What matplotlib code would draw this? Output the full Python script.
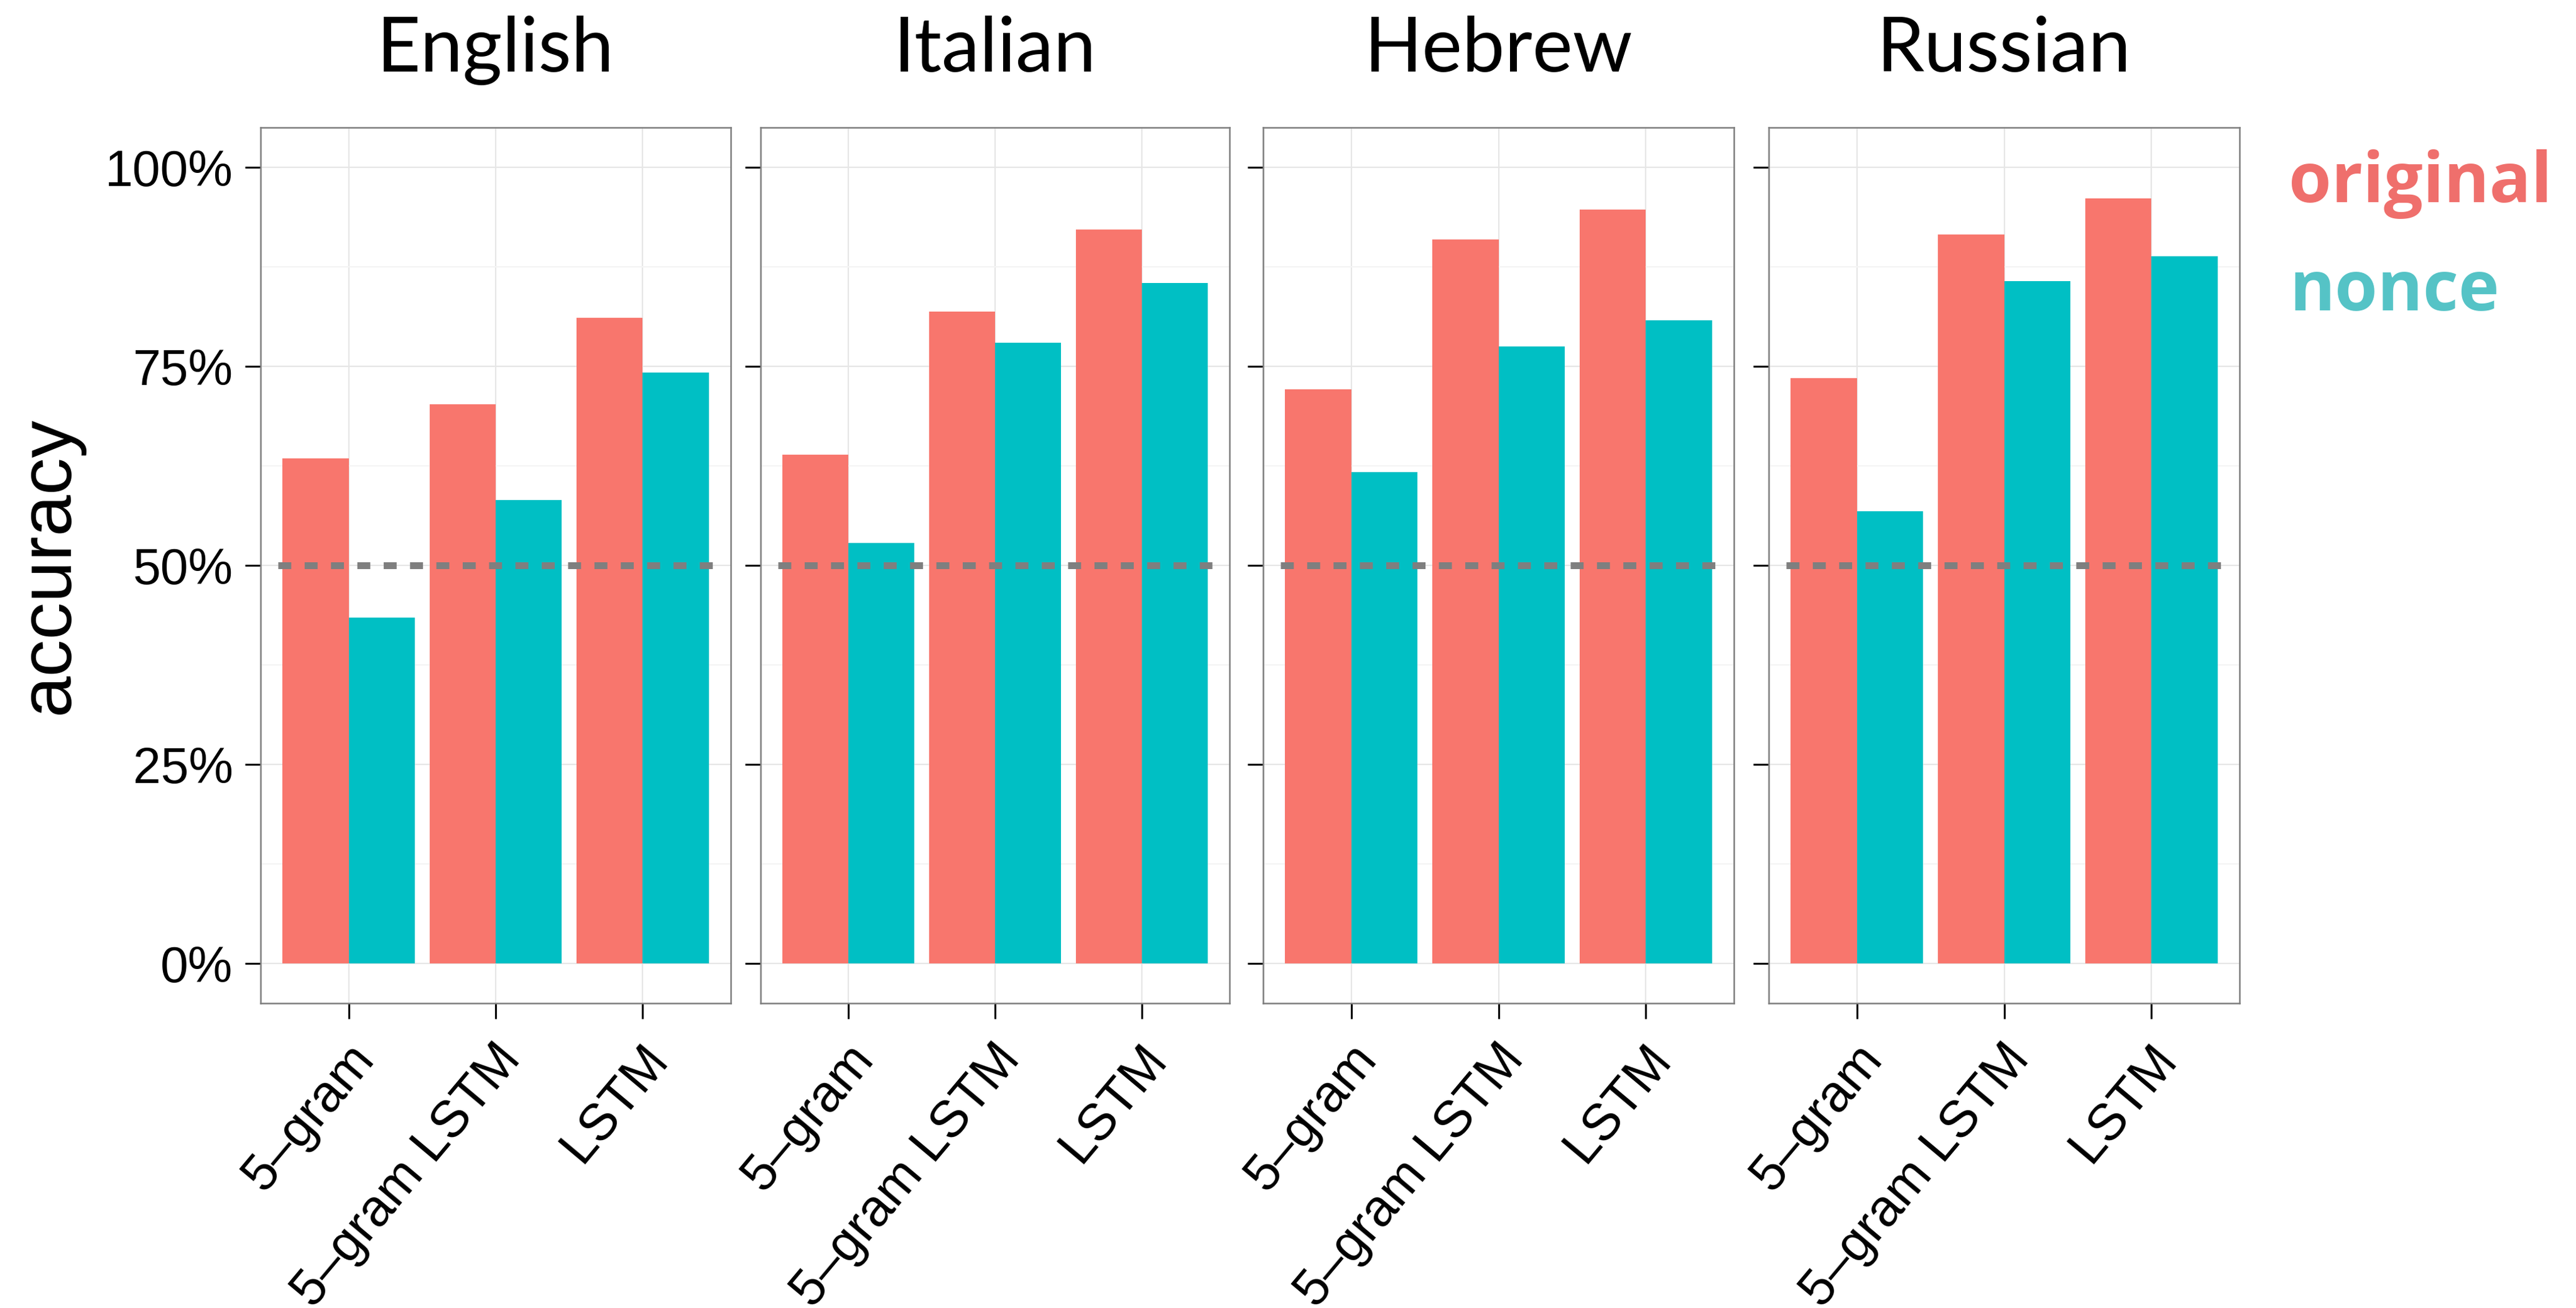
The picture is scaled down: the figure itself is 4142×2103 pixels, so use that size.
import numpy as np
import matplotlib
matplotlib.use("Agg")
import matplotlib.pyplot as plt
import matplotlib.transforms as mtransforms

# datos
languages = ["English", "Italian", "Hebrew", "Russian"]
models = ["5–gram", "5–gram LSTM", "LSTM"]
original = np.array([
    [0.634, 0.702, 0.811],
    [0.639, 0.819, 0.922],
    [0.721, 0.909, 0.947],
    [0.735, 0.916, 0.961],
])
nonce = np.array([
    [0.434, 0.582, 0.742],
    [0.528, 0.780, 0.855],
    [0.617, 0.775, 0.808],
    [0.568, 0.857, 0.888],
])
chance = [0.5, 0.5, 0.5, 0.5]
y_ticks = [0, 0.25, 0.5, 0.75, 1.0]
y_labels = ["0%", "25%", "50%", "75%", "100%"]

W, H = 4142, 2103
plt.rcParams['lines.scale_dashes'] = False
fig = plt.figure(figsize=(W / 100, H / 100), dpi=100)

# posiciones de los paneles en pixeles (izq, der)
panels = [(419, 1175), (1223, 1977), (2031, 2788), (2844, 3601)]
top, bottom = 205, 1613

x = np.arange(len(models))
bw = 0.45
shift = mtransforms.ScaledTranslation(-4 / 100, 0, fig.dpi_scale_trans)
for i, lang in enumerate(languages):
    l, r = panels[i]
    ax = fig.add_axes([l / W, 1 - bottom / H, (r - l) / W, (bottom - top) / H])
    ax.set_axisbelow(True)
    ax.bar(x - bw / 2, original[i], width=bw, color='#F8766D', zorder=2)
    ax.bar(x + bw / 2, nonce[i], width=bw, color='#00BFC4', zorder=2)
    ax.plot([-0.48, 2.48], [chance[i], chance[i]], color='#7F7F7F', linewidth=7.9,
            dashes=(15, 15.5), solid_capstyle='butt', dash_capstyle='butt', zorder=3)
    ax.set_xlim(-0.6, 2.6)
    ax.set_ylim(-0.05, 1.05)
    ax.set_yticks(y_ticks)
    ax.set_yticks([0.125, 0.375, 0.625, 0.875], minor=True)
    ax.grid(True, which='major', color='#E6E6E6', linewidth=1.6, zorder=0)
    ax.grid(True, which='minor', axis='y', color='#F4F4F4', linewidth=1.6, zorder=0)
    ax.tick_params(which='minor', length=0)
    ax.tick_params(which='major', length=18, width=2.2, color='black', labelsize=58,
                   pad=14)
    ax.tick_params(axis='x', labelsize=59.5, pad=19)
    ax.set_xticks(x)
    ax.set_xticklabels(models, rotation=50, ha='right', rotation_mode='anchor',
                       family='Liberation Sans')
    for lab in ax.get_xticklabels():
        lab.set_transform(lab.get_transform() + shift)
    if i == 0:
        ax.set_yticklabels(y_labels, family='Liberation Sans')
    else:
        ax.set_yticklabels([])
    for s in ax.spines.values():
        s.set_color('#7F7F7F')
        s.set_linewidth(1.8)
    fig.text((l + r) / 2 / W, 1 - 115 / H, lang, ha='center', va='baseline',
             fontsize=88, family='Lato')

fig.text(79 / W, 1 - 909 / H, 'accuracy', rotation=90, ha='center', va='center',
         fontsize=86, family='Liberation Sans')
fig.text(3680 / W, 1 - 325 / H, 'original', ha='left', va='baseline', fontsize=80,
         family='Open Sans', fontweight='bold', color='#EF6F6C')
fig.text(3681 / W, 1 - 499 / H, 'nonce', ha='left', va='baseline', fontsize=80,
         family='Open Sans', fontweight='bold', color='#55C3C6')

fig.savefig('out.png', dpi=100, facecolor='white')
